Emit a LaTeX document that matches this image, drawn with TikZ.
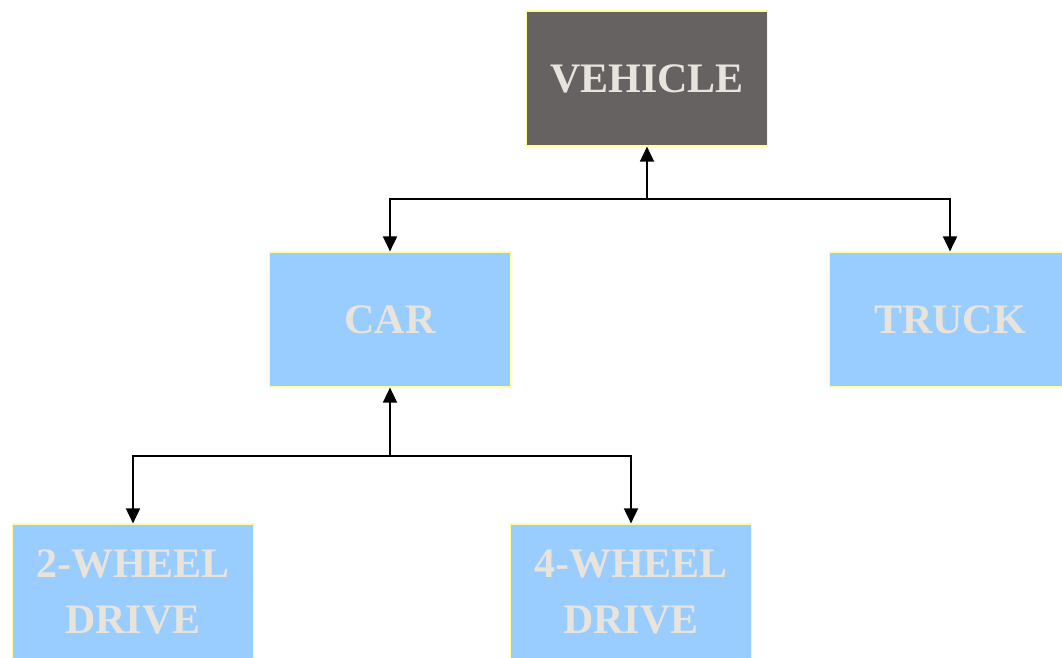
\documentclass[tikz,border=0pt]{standalone}
\usepackage{fontspec}
\setmainfont{Liberation Serif}
\usetikzlibrary{arrows.meta}
\definecolor{boxblue}{HTML}{99CCFF}
\definecolor{boxgray}{HTML}{666262}
\definecolor{boxedge}{HTML}{FFFF99}
\definecolor{labeltext}{HTML}{E8E4DC}
\begin{document}
\begin{tikzpicture}[x=1pt,y=-1pt,
  box/.style={draw=boxedge, line width=1.2pt, fill=boxblue,
    minimum width=241pt, minimum height=135pt, inner sep=0pt,
    align=center, text=labeltext,
    font=\fontsize{42}{56}\selectfont\bfseries},
  topbox/.style={box, fill=boxgray},
  link/.style={line width=1.8pt, -{Triangle[width=14pt,length=15pt]}}]
  \clip (0,0) rectangle (1062,657);
  \fill[white] (0,0) rectangle (1062,657);

  % class hierarchy boxes
  \node[topbox] (vehicle) at (647,78.5) {VEHICLE};
  \node[box] (car) at (390,319.5) {CAR};
  \node[box] (truck) at (950,319.5) {TRUCK};
  \node[box] (two) at (133,591.5) {2-WHEEL\\DRIVE};
  \node[box] (four) at (631,591.5) {4-WHEEL\\DRIVE};

  % junction points of the branching connectors
  \coordinate (j1) at (647,199);
  \coordinate (j2) at (390,456);

  % vehicle level
  \draw[link] (j1) -- (vehicle.south);
  \draw[link] (j1) -| (car.north);
  \draw[link] (j1) -| (truck.north);

  % car level
  \draw[link] (j2) -- (car.south);
  \draw[link] (j2) -| (two.north);
  \draw[link] (j2) -| (four.north);
\end{tikzpicture}
\end{document}
